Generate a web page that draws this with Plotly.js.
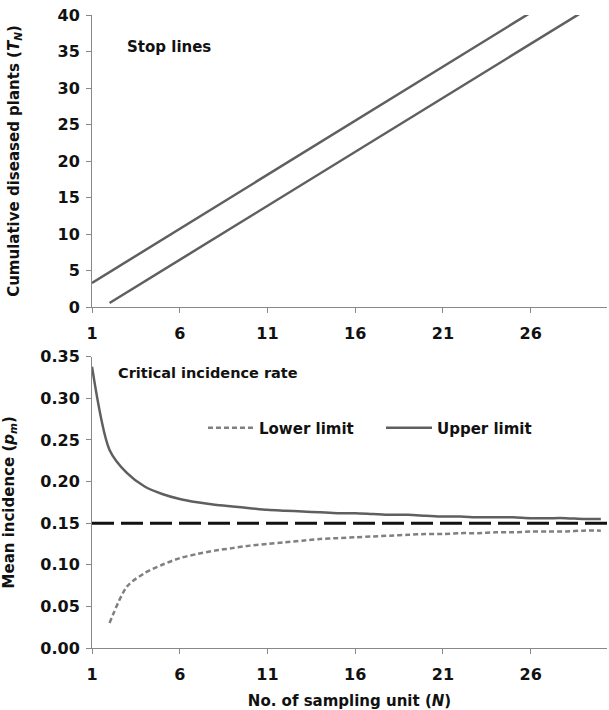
<!DOCTYPE html>
<html>
<head>
<meta charset="utf-8">
<script src="https://cdn.plot.ly/plotly-3.0.1.min.js"></script>
<style>
html,body{margin:0;padding:0;background:#fff;}
#chart{width:609px;height:710px;}
</style>
</head>
<body>
<div id="chart"></div>
<script>
// ---- data ----
const samplingUnits = [1,2,3,4,5,6,7,8,9,10,11,12,13,14,15,16,17,18,19,20,21,22,23,24,25,26,27,28,29,30];
const stopUpper = [3.3,4.78,6.26,7.74,9.22,10.71,12.19,13.67,15.15,16.63,18.11,19.59,21.07,22.55,24.03,25.52,27.0,28.48,29.96,31.44,32.92,34.4,35.88,37.36,38.84,40.33,41.81,43.29,44.77,46.25];
const stopLower = [null,0.55,2.03,3.51,4.99,6.47,7.95,9.42,10.9,12.38,13.86,15.34,16.82,18.3,19.78,21.26,22.74,24.22,25.69,27.17,28.65,30.13,31.61,33.09,34.57,36.05,37.53,39.0,40.48,41.96];
const incidenceUpper = [0.338,0.238,0.210,0.194,0.185,0.179,0.175,0.172,0.170,0.168,0.166,0.165,0.164,0.163,0.162,0.162,0.161,0.160,0.160,0.159,0.158,0.158,0.157,0.157,0.157,0.156,0.156,0.156,0.155,0.155];
const incidenceLower = [null,0.030,0.074,0.090,0.100,0.108,0.113,0.117,0.120,0.123,0.125,0.127,0.129,0.131,0.132,0.133,0.134,0.135,0.136,0.137,0.137,0.138,0.138,0.139,0.139,0.140,0.140,0.140,0.141,0.141];
const criticalRate = 0.15;
const xTicks = [1,6,11,16,21,26];
const seriesNames = ['Lower limit','Upper limit'];

const FONT = 'DejaVu Sans, sans-serif';
const LINE = '#5f5f5f';
const AX = '#888888';

const traces = [
  {x: samplingUnits, y: stopUpper, xaxis:'x', yaxis:'y', mode:'lines', line:{color:LINE, width:2.5}, showlegend:false, hoverinfo:'skip'},
  {x: samplingUnits, y: stopLower, xaxis:'x', yaxis:'y', mode:'lines', line:{color:LINE, width:2.5}, showlegend:false, hoverinfo:'skip'},
  {x: samplingUnits, y: incidenceLower, xaxis:'x2', yaxis:'y2', mode:'lines', name: seriesNames[0],
   line:{color:'#808080', width:2.5, dash:'5px,3px', shape:'spline', smoothing:0.8}},
  {x: samplingUnits, y: incidenceUpper, xaxis:'x2', yaxis:'y2', mode:'lines', name: seriesNames[1],
   line:{color:LINE, width:2.5, shape:'spline', smoothing:0.8}}
];

const xCommon = {
  range:[1,30.35], tickvals:xTicks, ticktext:xTicks.map(String),
  showgrid:false, zeroline:false, showline:true, linecolor:AX, linewidth:1,
  ticks:'outside', ticklen:5, tickcolor:AX, tickwidth:1,
  tickfont:{family:FONT, size:16, color:'#111', weight:'bold'},
  ticklabelstandoff:7
};
const yCommon = {
  showgrid:false, zeroline:false, showline:true, linecolor:AX, linewidth:1,
  ticks:'outside', ticklen:5, tickcolor:AX, tickwidth:1,
  tickfont:{family:FONT, size:16, color:'#111', weight:'bold'},
  ticklabelstandoff:3
};
const titleFont = {family:FONT, size:15, weight:'bold', color:'#111'};

const layout = {
  width:609, height:710,
  margin:{l:92, r:2, t:15, b:62},
  paper_bgcolor:'#fff', plot_bgcolor:'#fff',
  font:{family:FONT, color:'#111'},
  xaxis: Object.assign({}, xCommon, {domain:[0,1], anchor:'y'}),
  yaxis: Object.assign({}, yCommon, {domain:[0.5387,1], anchor:'x', range:[0,40], dtick:5, tick0:0,
    title:{text:'Cumulative diseased plants (<i>T<sub>N</sub></i>)', font:titleFont, standoff:34}}),
  xaxis2: Object.assign({}, xCommon, {domain:[0,1], anchor:'y2',
    title:{text:'No. of sampling unit (<i>N</i>)', font:titleFont, standoff:14}}),
  yaxis2: Object.assign({}, yCommon, {domain:[0,0.4602], anchor:'x2', range:[0,0.35], dtick:0.05, tick0:0, tickformat:'.2f',
    title:{text:'Mean incidence (<i>p<sub>m</sub></i>)', font:titleFont, standoff:34}}),
  shapes:[
    {type:'line', xref:'x2 domain', yref:'y2', x0:0, x1:1, y0:criticalRate, y1:criticalRate,
     line:{color:'#111', width:3, dash:'22px,7px'}}
  ],
  annotations:[
    {text:'Stop lines', xref:'paper', yref:'paper', x:0.064, y:0.950, xanchor:'left', yanchor:'middle', showarrow:false,
     font:{family:FONT, size:15, color:'#111', weight:600}},
    {text:'Critical incidence rate', xref:'paper', yref:'paper', x:0.046, y:0.435, xanchor:'left', yanchor:'middle', showarrow:false,
     font:{family:FONT, size:14.5, color:'#111', weight:600}}
  ],
  legend:{orientation:'h', x:0.2155, xanchor:'left', y:0.3476, yanchor:'middle', bgcolor:'rgba(0,0,0,0)',
    font:{family:FONT, size:15, color:'#111', weight:'bold'}, itemwidth:46, entrywidth:117, traceorder:'normal'},
  showlegend:true
};

Plotly.newPlot('chart', traces, layout, {displayModeBar:false, staticPlot:true});
</script>
</body>
</html>
